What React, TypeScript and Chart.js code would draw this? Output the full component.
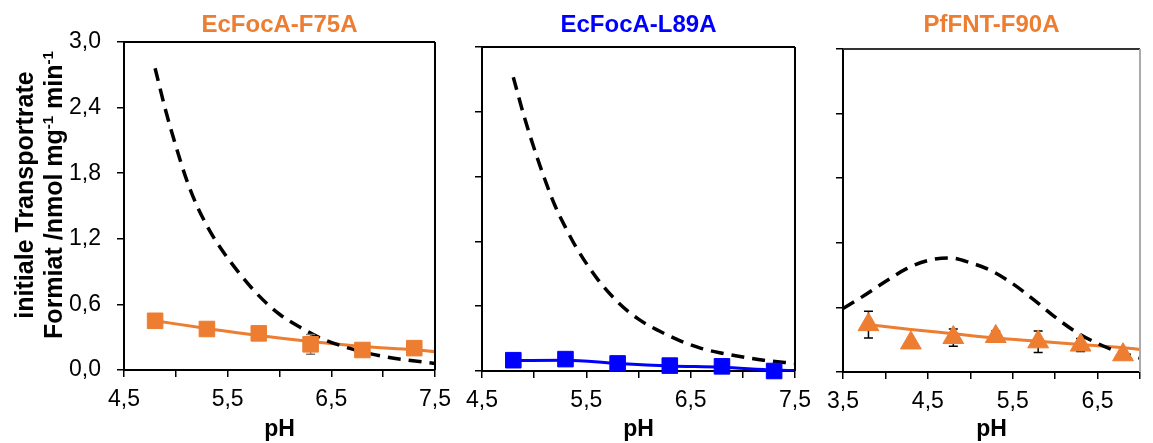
import React, { useEffect, useRef } from 'react';
import { Chart, registerables } from 'chart.js';

Chart.register(...registerables);

const W = 1153;
const H = 443;
const ORANGE = '#ED7D31';
const BLUE = '#0000FF';
const FONT = "'Liberation Sans', Arial, Helvetica, sans-serif";

// ---------- Panel 1: EcFocA-F75A ----------
const p1Title = 'EcFocA-F75A';
const p1MeasX = [4.8, 5.3, 5.8, 6.3, 6.8, 7.3];
const p1MeasY = [0.45, 0.375, 0.335, 0.235, 0.183, 0.2];
const p1MeasErr = [0, 0, 0, 0.09, 0, 0];
const p1FitX = [4.8, 5.3, 5.8, 6.3, 6.8, 7.3, 7.5];
const p1FitY = [0.45, 0.38, 0.315, 0.26, 0.215, 0.185, 0.168];
const p1CalcX = [4.8, 4.9, 5.0, 5.1, 5.2, 5.3, 5.4, 5.6, 5.8, 6.0, 6.2, 6.4, 6.6, 6.8, 7.0, 7.2, 7.5];
const p1CalcY = [2.76, 2.38, 2.05, 1.75, 1.51, 1.32, 1.16, 0.9, 0.68, 0.51, 0.39, 0.29, 0.22, 0.165, 0.125, 0.095, 0.06];
const p1XLabels = ['4,5', '5,5', '6,5', '7,5'];

// ---------- Panel 2: EcFocA-L89A ----------
const p2Title = 'EcFocA-L89A';
const p2MeasX = [4.8, 5.3, 5.8, 6.3, 6.8, 7.3];
const p2MeasY = [0.1, 0.11, 0.07, 0.05, 0.043, 0.0];
const p2MeasErr = [0, 0, 0, 0, 0, 0];
const p2FitX = [4.8, 5.3, 5.8, 6.3, 6.8, 7.3, 7.5];
const p2FitY = [0.097, 0.1, 0.07, 0.047, 0.035, 0.009, 0.004];
const p2CalcX = [4.8, 4.9, 5.0, 5.1, 5.2, 5.3, 5.4, 5.6, 5.8, 6.0, 6.2, 6.4, 6.6, 6.8, 7.0, 7.2, 7.5];
const p2CalcY = [2.72, 2.37, 2.06, 1.78, 1.53, 1.33, 1.15, 0.86, 0.64, 0.48, 0.37, 0.28, 0.21, 0.165, 0.13, 0.1, 0.07];
const p2XLabels = ['4,5', '5,5', '6,5', '7,5'];

// ---------- Panel 3: PfFNT-F90A ----------
const p3Title = 'PfFNT-F90A';
const p3MeasX = [3.8, 4.3, 4.8, 5.3, 5.8, 6.3, 6.8];
const p3MeasY = [0.44, 0.27, 0.32, 0.33, 0.28, 0.25, 0.16];
const p3MeasErr = [0.125, 0, 0.08, 0.05, 0.1, 0.06, 0];
const p3FitX = [3.8, 4.3, 4.8, 5.3, 5.8, 6.3, 6.8, 7.0];
const p3FitY = [0.44, 0.395, 0.355, 0.315, 0.285, 0.255, 0.225, 0.21];
const p3CalcX = [3.5, 3.75, 4.0, 4.25, 4.5, 4.75, 5.0, 5.25, 5.5, 5.75, 6.0, 6.25, 6.5, 6.75, 7.0];
const p3CalcY = [0.59, 0.71, 0.84, 0.96, 1.035, 1.06, 1.015, 0.94, 0.82, 0.67, 0.51, 0.37, 0.265, 0.185, 0.13];
const p3XLabels = ['3,5', '4,5', '5,5', '6,5'];

// ---------- Shared y axis ----------
const yMin = 0;
const yMax = 3.0;
const yStep = 0.6;
const yTickLabels = ['0,0', '0,6', '1,2', '1,8', '2,4', '3,0'];
const yTitleLine1 = 'initiale Transportrate';
const yTitleLine2: [string, boolean][] = [
  ['Formiat /nmol mg', false],
  ['-1', true],
  [' min', false],
  ['-1', true],
];
const xTitle = 'pH';

type Panel = {
  title: string;
  titleColor: string;
  titleBaseline: number;
  area: { left: number; right: number; top: number; bottom: number };
  xMin: number;
  xMax: number;
  xLabels: string[];
  showYLabels: boolean;
  showYTitle: boolean;
  frameTop: string;
  frameRight: string;
  measX: number[];
  measY: number[];
  measErr: number[];
  errColor: string;
  marker: 'rect' | 'triangle';
  markerRadius: number;
  color: string;
  fitX: number[];
  fitY: number[];
  calcX: number[];
  calcY: number[];
};

const panels: Panel[] = [
  {
    title: p1Title, titleColor: ORANGE, titleBaseline: 32,
    area: { left: 124, right: 435, top: 42, bottom: 370 },
    xMin: 4.5, xMax: 7.5, xLabels: p1XLabels, showYLabels: true, showYTitle: true,
    frameTop: '#000', frameRight: '#000',
    measX: p1MeasX, measY: p1MeasY, measErr: p1MeasErr, errColor: '#777',
    marker: 'rect', markerRadius: 11, color: ORANGE,
    fitX: p1FitX, fitY: p1FitY, calcX: p1CalcX, calcY: p1CalcY,
  },
  {
    title: p2Title, titleColor: BLUE, titleBaseline: 32,
    area: { left: 482, right: 795, top: 47, bottom: 371 },
    xMin: 4.5, xMax: 7.5, xLabels: p2XLabels, showYLabels: false, showYTitle: false,
    frameTop: '#000', frameRight: '#000',
    measX: p2MeasX, measY: p2MeasY, measErr: p2MeasErr, errColor: '#000',
    marker: 'rect', markerRadius: 11, color: BLUE,
    fitX: p2FitX, fitY: p2FitY, calcX: p2CalcX, calcY: p2CalcY,
  },
  {
    title: p3Title, titleColor: ORANGE, titleBaseline: 32,
    area: { left: 843, right: 1152, top: 49, bottom: 372 },
    xMin: 3.5, xMax: 7.0, xLabels: p3XLabels, showYLabels: false, showYTitle: false,
    frameTop: '#333', frameRight: '#aaa',
    measX: p3MeasX, measY: p3MeasY, measErr: p3MeasErr, errColor: '#000',
    marker: 'triangle', markerRadius: 12, color: ORANGE,
    fitX: p3FitX, fitY: p3FitY, calcX: p3CalcX, calcY: p3CalcY,
  },
];

const fmt = (v: number) => Number(v).toFixed(1).replace('.', ',');
const zip = (xs: number[], ys: number[]) => xs.map((x, i) => ({ x, y: ys[i] }));

function makeDecor(p: Panel) {
  return {
    id: 'panelDecor',
    beforeDatasetDraw(chart: any, args: any) {
      const ds = chart.data.datasets[args.index];
      if (!ds.errors) return;
      const xs = chart.scales.x;
      const ys = chart.scales.y;
      const ctx = chart.ctx;
      ctx.save();
      ctx.strokeStyle = ds.errorColor;
      ctx.lineWidth = 1.5;
      ds.data.forEach((pt: any, i: number) => {
        const e = ds.errors[i];
        if (!e) return;
        const x = xs.getPixelForValue(pt.x);
        const y1 = ys.getPixelForValue(pt.y + e);
        const y2 = ys.getPixelForValue(pt.y - e);
        ctx.beginPath();
        ctx.moveTo(x, y1);
        ctx.lineTo(x, y2);
        ctx.moveTo(x - 4.5, y1);
        ctx.lineTo(x + 4.5, y1);
        ctx.moveTo(x - 4.5, y2);
        ctx.lineTo(x + 4.5, y2);
        ctx.stroke();
      });
      ctx.restore();
    },
    afterDraw(chart: any) {
      const ctx = chart.ctx;
      const a = chart.chartArea;
      ctx.save();
      // frame (top and right)
      ctx.lineWidth = 2;
      ctx.strokeStyle = p.frameTop;
      ctx.beginPath();
      ctx.moveTo(a.left, a.top);
      ctx.lineTo(a.right, a.top);
      ctx.stroke();
      ctx.strokeStyle = p.frameRight;
      ctx.beginPath();
      ctx.moveTo(a.right, a.top);
      ctx.lineTo(a.right, a.bottom);
      ctx.stroke();
      // panel title
      ctx.fillStyle = p.titleColor;
      ctx.font = `bold 24px ${FONT}`;
      ctx.textAlign = 'center';
      ctx.textBaseline = 'alphabetic';
      ctx.fillText(p.title, (a.left + a.right) / 2, p.titleBaseline);
      // rotated y-axis title with superscripts
      if (p.showYTitle) {
        const cy = (a.top + a.bottom) / 2 - 11;
        ctx.fillStyle = '#000';
        ctx.textAlign = 'left';
        // line 1
        ctx.save();
        ctx.translate(a.left - 91, cy);
        ctx.rotate(-Math.PI / 2);
        ctx.font = `bold 25px ${FONT}`;
        const w1 = ctx.measureText(yTitleLine1).width;
        ctx.fillText(yTitleLine1, -w1 / 2, 0);
        ctx.restore();
        // line 2
        ctx.save();
        ctx.translate(a.left - 62, cy);
        ctx.rotate(-Math.PI / 2);
        const mainFont = `bold 25px ${FONT}`;
        const supFont = `bold 15px ${FONT}`;
        let total = 0;
        yTitleLine2.forEach(([t, sup]) => {
          ctx.font = sup ? supFont : mainFont;
          total += ctx.measureText(t).width;
        });
        let x = -total / 2;
        yTitleLine2.forEach(([t, sup]) => {
          ctx.font = sup ? supFont : mainFont;
          ctx.fillText(t, x, sup ? -9 : 0);
          x += ctx.measureText(t).width;
        });
        ctx.restore();
      }
      ctx.restore();
    },
  };
}

function PanelChart({ p }: { p: Panel }) {
  const ref = useRef<HTMLCanvasElement | null>(null);
  useEffect(() => {
    if (!ref.current) return;
    const chart = new Chart(ref.current, {
      type: 'scatter',
      data: {
        datasets: [
          {
            label: 'measured',
            data: zip(p.measX, p.measY),
            showLine: false,
            pointStyle: p.marker,
            pointRadius: p.markerRadius,
            pointBorderWidth: 1,
            backgroundColor: p.color,
            borderColor: p.color,
            clip: false,
            order: 0,
            errors: p.measErr,
            errorColor: p.errColor,
          } as any,
          {
            label: 'calculated',
            data: zip(p.calcX, p.calcY),
            showLine: true,
            pointRadius: 0,
            borderColor: '#000',
            borderWidth: 3.5,
            borderDash: [13, 8],
            cubicInterpolationMode: 'monotone',
            order: 1,
          } as any,
          {
            label: 'fit',
            data: zip(p.fitX, p.fitY),
            showLine: true,
            pointRadius: 0,
            borderColor: p.color,
            borderWidth: 3,
            cubicInterpolationMode: 'monotone',
            order: 2,
          } as any,
        ],
      },
      options: {
        responsive: false,
        animation: false,
        events: [],
        layout: {
          padding: { left: 0, right: W - p.area.right, top: p.area.top, bottom: 0 },
        },
        plugins: { legend: { display: false }, tooltip: { enabled: false }, title: { display: false } },
        scales: {
          x: {
            type: 'linear',
            min: p.xMin,
            max: p.xMax,
            afterFit: (s: any) => { s.height = H - p.area.bottom; },
            ticks: {
              stepSize: 0.5,
              autoSkip: false,
              maxRotation: 0,
              minRotation: 0,
              padding: 9,
              color: '#000',
              font: { family: FONT, size: 23 },
              callback: (v: any) => {
                const s = fmt(v);
                return p.xLabels.includes(s) ? s : '';
              },
            },
            grid: { drawOnChartArea: false, drawTicks: true, tickLength: 7, color: '#000', lineWidth: 1.5 },
            border: { display: true, color: '#000', width: 2 },
            title: {
              display: true,
              text: xTitle,
              color: '#000',
              font: { family: FONT, size: 23, weight: 'bold' },
              padding: { top: 0, bottom: 0 },
            },
          },
          y: {
            type: 'linear',
            min: yMin,
            max: yMax,
            afterFit: (s: any) => { s.width = p.area.left; },
            ticks: {
              stepSize: yStep,
              autoSkip: false,
              padding: 16,
              color: '#000',
              font: { family: FONT, size: 23 },
              callback: (v: any) => {
                if (!p.showYLabels) return '';
                const s = fmt(v);
                return yTickLabels.includes(s) ? s : '';
              },
            },
            grid: { drawOnChartArea: false, drawTicks: true, tickLength: 7, color: '#000', lineWidth: 1.5 },
            border: { display: true, color: '#000', width: 2 },
          },
        },
      } as any,
      plugins: [makeDecor(p)],
    });
    return () => chart.destroy();
  }, [p]);
  return (
    <canvas
      ref={ref}
      width={W}
      height={H}
      style={{ position: 'absolute', left: 0, top: 0, width: W, height: H }}
    />
  );
}

export default function App() {
  return (
    <div style={{ position: 'absolute', left: 0, top: 0, width: W, height: H, background: '#fff' }}>
      {panels.map((p, i) => (
        <PanelChart key={i} p={p} />
      ))}
    </div>
  );
}
